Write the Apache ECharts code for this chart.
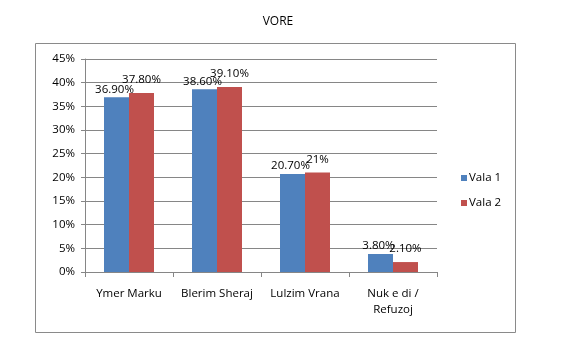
<!DOCTYPE html>
<html><head><meta charset="utf-8">
<script src="https://cdn.jsdelivr.net/npm/echarts@6/dist/echarts.min.js"></script>
<style>html,body{margin:0;padding:0;background:#fff}#c{width:565px;height:355px}</style>
</head><body><div id="c"></div>
<script>
const titleText = 'VORE';
const categories = ['Ymer Marku', 'Blerim Sheraj', 'Lulzim Vrana', 'Nuk e di /\nRefuzoj'];
const seriesNames = ['Vala 1', 'Vala 2'];
const vala1 = [36.9, 38.6, 20.7, 3.8];
const vala2 = [37.8, 39.1, 21, 2.1];
const yTicks = [0, 5, 10, 15, 20, 25, 30, 35, 40, 45];

const FONT = '"Open Sans", "Liberation Sans", sans-serif';
const fmt = v => (Number.isInteger(v) ? v : v.toFixed(2)) + '%';

const chart = echarts.init(document.getElementById('c'), null, {renderer: 'canvas'});
chart.setOption({
  animation: false,
  backgroundColor: '#fff',
  title: {text: titleText, left: 273, top: 11, textAlign: 'center',
    textStyle: {fontFamily: FONT, fontSize: 12, fontWeight: 'normal', color: '#000'}},
  graphic: [{type: 'rect', shape: {x: 35.5, y: 43.5, width: 480, height: 289},
    style: {fill: 'none', stroke: '#8a8a8a', lineWidth: 1}, silent: true, z: -1}],
  legend: {orient: 'vertical', left: 456, top: 167, itemWidth: 6, itemHeight: 6, itemGap: 13,
    icon: 'rect', textStyle: {fontFamily: FONT, fontSize: 11.5, color: '#000', padding: [0, 0, 0, -3]},
    data: seriesNames},
  grid: {left: 85, right: 128, top: 59, bottom: 83, containLabel: false},
  xAxis: {type: 'category', data: categories,
    axisLine: {lineStyle: {color: '#868686'}},
    axisTick: {show: true, alignWithLabel: false, length: 5, lineStyle: {color: '#868686'}},
    axisLabel: {margin: 14, fontFamily: FONT, fontSize: 11.5, color: '#000', lineHeight: 16, interval: 0}},
  yAxis: {type: 'value', min: yTicks[0], max: yTicks[yTicks.length - 1], interval: yTicks[1] - yTicks[0],
    axisLine: {show: true, lineStyle: {color: '#868686'}},
    axisTick: {show: true, length: 4, lineStyle: {color: '#868686'}},
    splitLine: {lineStyle: {color: '#868686'}},
    axisLabel: {formatter: '{value}%', margin: 10, fontFamily: FONT, fontSize: 11.5, color: '#000'}},
  series: [
    {name: seriesNames[0], type: 'bar', data: vala1, barWidth: 25, barGap: '0%',
     itemStyle: {color: '#4F81BD'},
     label: {show: true, position: 'top', distance: 2, offset: [-2, 0], formatter: p => fmt(p.value),
       fontFamily: FONT, fontSize: 11.5, color: '#000'}},
    {name: seriesNames[1], type: 'bar', data: vala2, barWidth: 25,
     itemStyle: {color: '#C0504D'},
     label: {show: true, position: 'top', distance: 7, offset: [0, 0], formatter: p => fmt(p.value),
       fontFamily: FONT, fontSize: 11.5, color: '#000'}}
  ]
});
</script></body></html>
